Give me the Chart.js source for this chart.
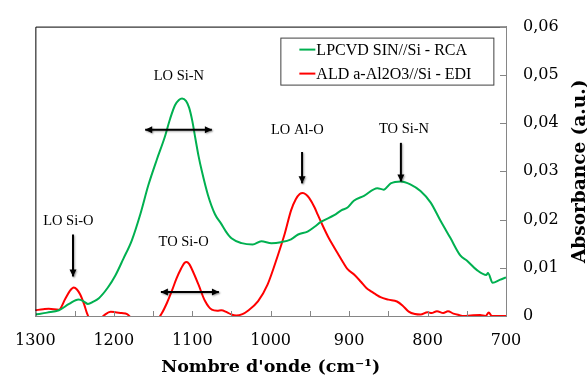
<!DOCTYPE html>
<html>
<head>
<meta charset="utf-8">
<script src="https://cdn.jsdelivr.net/npm/chart.js@4.4.1/dist/chart.umd.min.js"></script>
<style>
  html, body { margin: 0; padding: 0; background: #fff; }
</style>
</head>
<body>
<canvas id="myChart" width="587" height="380"></canvas>
<script>
// LPCVD SiN spectrum (wavenumber cm-1 / absorbance)
const greenWave = [1300, 1285, 1270, 1257, 1245, 1238, 1233, 1226, 1219, 1208, 1198, 1188, 1177, 1166, 1156, 1145, 1135, 1128, 1122, 1117, 1113, 1108, 1104, 1100, 1096, 1092, 1088, 1080, 1071, 1063, 1057, 1050, 1037, 1023, 1012, 999, 987, 974, 965, 953, 944, 936, 919, 910, 902, 894, 881, 864, 856, 847, 834, 822, 809, 796, 784, 771, 758, 750, 737, 725, 723, 717, 708, 700];
const greenAbs = [0.0003, 0.0007, 0.0012, 0.0025, 0.0034, 0.0030, 0.0025, 0.0030, 0.0037, 0.0058, 0.0084, 0.0118, 0.0157, 0.0212, 0.0271, 0.0325, 0.0371, 0.0410, 0.0437, 0.0448, 0.0451, 0.0446, 0.0432, 0.0405, 0.0368, 0.0332, 0.0302, 0.0251, 0.0211, 0.0191, 0.0175, 0.0161, 0.0151, 0.0148, 0.0155, 0.0151, 0.0153, 0.0159, 0.0169, 0.0175, 0.0185, 0.0195, 0.0209, 0.0219, 0.0225, 0.0239, 0.0249, 0.0265, 0.0262, 0.0275, 0.0279, 0.0273, 0.0259, 0.0235, 0.0199, 0.0162, 0.0125, 0.0115, 0.0095, 0.0085, 0.0089, 0.0069, 0.0075, 0.0080];

// ALD Al2O3 spectrum
const redWave = [1300, 1290, 1283, 1270, 1262, 1256, 1251, 1247, 1243, 1238, 1234, 1228, 1220, 1212, 1204, 1198, 1190, 1183, 1175, 1160, 1148, 1139, 1132, 1126, 1120, 1114, 1110, 1107, 1104, 1101, 1092, 1084, 1075, 1068, 1063, 1056, 1050, 1044, 1036, 1029, 1016, 1004, 991, 982, 974, 968, 963, 959, 955, 951, 944, 940, 933, 927, 919, 915, 908, 902, 893, 885, 878, 872, 866, 860, 850, 839, 832, 824, 816, 809, 800, 795, 788, 780, 774, 767, 760, 754, 745, 733, 726, 722, 718, 710, 700];
const redAbs = [0.0012, 0.0014, 0.0015, 0.0013, 0.0035, 0.0052, 0.0059, 0.0055, 0.0045, 0.0025, 0.0005, -0.0012, -0.0010, 0.0002, 0.0009, 0.0008, 0.0006, 0.0004, -0.0010, -0.0030, -0.0015, 0.0005, 0.0028, 0.0052, 0.0078, 0.0099, 0.0110, 0.0112, 0.0108, 0.0099, 0.0065, 0.0032, 0.0013, 0.0011, 0.0012, 0.0008, 0.0003, 0.0001, 0.0004, 0.0011, 0.0031, 0.0065, 0.0125, 0.0171, 0.0219, 0.0242, 0.0253, 0.0255, 0.0252, 0.0245, 0.0225, 0.0210, 0.0185, 0.0165, 0.0142, 0.0131, 0.0112, 0.0097, 0.0085, 0.0071, 0.0058, 0.0051, 0.0045, 0.0039, 0.0034, 0.0030, 0.0022, 0.0009, 0.0004, 0.0003, 0.0008, 0.0006, 0.0010, 0.0006, 0.0010, 0.0005, 0.0002, 0.0000, 0.0001, 0.0002, 0.0000, 0.0007, 0.0000, 0.0000, 0.0000];

const seriesNames = ['LPCVD SIN//Si - RCA', 'ALD a-Al2O3//Si - EDI'];
const seriesColors = ['#00b050', '#ff0000'];

// peak annotations (in chart units)
const peakLabels = ['LO Si-N', 'LO Al-O', 'TO Si-N', 'LO Si-O', 'TO Si-O'];
const peakLabelWave = [1117, 966, 830, 1258, 1111];
const peakLabelAbs = [0.0498, 0.0385, 0.0387, 0.0197, 0.0152];
const arrowFromWave = [1160, 960, 834, 1252, 1140];
const arrowFromAbs = [0.0386, 0.0340, 0.0359, 0.0169, 0.0050];
const arrowToWave = [1075, 960, 834, 1252, 1066];
const arrowToAbs = [0.0386, 0.0275, 0.0279, 0.0082, 0.0050];
const arrowBoth = [true, false, false, false, true];

const toPoints = (xs, ys) => xs.map((w, i) => ({ x: w, y: ys[i] }));

function drawHead(ctx, x1, y1, x2, y2) {
    const ang = Math.atan2(y2 - y1, x2 - x1);
    const len = 7, half = 3.5;
    ctx.beginPath();
    ctx.moveTo(x2, y2);
    ctx.lineTo(x2 - len * Math.cos(ang) + half * Math.sin(ang), y2 - len * Math.sin(ang) - half * Math.cos(ang));
    ctx.lineTo(x2 - len * Math.cos(ang) - half * Math.sin(ang), y2 - len * Math.sin(ang) + half * Math.cos(ang));
    ctx.closePath();
    ctx.fill();
}

const extras = {
    id: 'extras',
    afterDatasetsDraw(chart) {
        const { ctx, chartArea: a, scales: { x, y } } = chart;
        ctx.save();

        // black frame on top and left
        ctx.strokeStyle = '#000';
        ctx.lineWidth = 1;
        ctx.beginPath();
        ctx.moveTo(a.left + 0.5, a.bottom);
        ctx.lineTo(a.left + 0.5, a.top + 0.5);
        ctx.lineTo(a.right, a.top + 0.5);
        ctx.stroke();

        // tick marks pointing inside
        ctx.strokeStyle = '#868686';
        ctx.beginPath();
        x.ticks.forEach((t, i) => {
            const px = Math.round(x.getPixelForTick(i)) + 0.5;
            ctx.moveTo(px, a.bottom);
            ctx.lineTo(px, a.bottom - 5);
        });
        y.ticks.forEach((t, i) => {
            const py = Math.round(y.getPixelForTick(i)) + 0.5;
            ctx.moveTo(a.right, py);
            ctx.lineTo(a.right - 6, py);
        });
        ctx.stroke();

        // peak labels
        ctx.fillStyle = '#000';
        ctx.font = '14.5px "Liberation Serif"';
        ctx.textAlign = 'center';
        ctx.textBaseline = 'middle';
        peakLabels.forEach((txt, i) => {
            ctx.fillText(txt, x.getPixelForValue(peakLabelWave[i]), y.getPixelForValue(peakLabelAbs[i]));
        });

        // arrows
        ctx.save();
        ctx.shadowColor = 'rgba(0,0,0,0.35)';
        ctx.shadowBlur = 2;
        ctx.shadowOffsetX = 1;
        ctx.shadowOffsetY = 1;
        ctx.strokeStyle = '#000';
        ctx.fillStyle = '#000';
        ctx.lineWidth = 2;
        arrowFromWave.forEach((w, i) => {
            const x1 = x.getPixelForValue(w), y1 = y.getPixelForValue(arrowFromAbs[i]);
            const x2 = x.getPixelForValue(arrowToWave[i]), y2 = y.getPixelForValue(arrowToAbs[i]);
            ctx.beginPath();
            ctx.moveTo(x1, y1);
            ctx.lineTo(x2, y2);
            ctx.stroke();
            drawHead(ctx, x1, y1, x2, y2);
            if (arrowBoth[i]) drawHead(ctx, x2, y2, x1, y1);
        });
        ctx.restore();

        // legend box
        const lx = a.left + 245, ly = a.top + 11, lw = 213, lh = 47;
        ctx.fillStyle = '#fff';
        ctx.fillRect(lx, ly, lw, lh);
        ctx.strokeStyle = '#404040';
        ctx.lineWidth = 1;
        ctx.strokeRect(lx + 0.5, ly + 0.5, lw, lh);
        ctx.font = '16px "Liberation Serif"';
        ctx.textAlign = 'left';
        seriesNames.forEach((name, i) => {
            const cy = ly + 12 + i * 24;
            ctx.strokeStyle = seriesColors[i];
            ctx.lineWidth = 2;
            ctx.beginPath();
            ctx.moveTo(lx + 19, cy);
            ctx.lineTo(lx + 35, cy);
            ctx.stroke();
            ctx.fillStyle = '#000';
            ctx.fillText(name, lx + 36, cy + 1);
        });

        // y axis title, reading upwards
        ctx.translate(chart.width - 7, (a.top + a.bottom) / 2);
        ctx.rotate(-Math.PI / 2);
        ctx.textAlign = 'center';
        ctx.font = 'bold 18.5px "DejaVu Serif"';
        ctx.fillText('Absorbance (a.u.)', 0, 0);
        ctx.restore();
    }
};

const ctx = document.getElementById('myChart').getContext('2d');
const myChart = new Chart(ctx, {
    type: 'line',
    data: {
        datasets: [
            {
                label: seriesNames[0],
                data: toPoints(greenWave, greenAbs),
                borderColor: seriesColors[0],
                borderWidth: 2,
                pointRadius: 0,
                cubicInterpolationMode: 'monotone',
                fill: false
            },
            {
                label: seriesNames[1],
                data: toPoints(redWave, redAbs),
                borderColor: seriesColors[1],
                borderWidth: 2,
                pointRadius: 0,
                cubicInterpolationMode: 'monotone',
                fill: false
            }
        ]
    },
    options: {
        responsive: false,
        animation: false,
        devicePixelRatio: 1,
        layout: { padding: { left: 33, top: 16, right: 0, bottom: 0 } },
        plugins: {
            legend: { display: false },
            tooltip: { enabled: false }
        },
        scales: {
            x: {
                type: 'linear',
                reverse: true,
                min: 700,
                max: 1300,
                grid: { drawOnChartArea: false, drawTicks: false },
                border: { color: '#868686', width: 1 },
                ticks: {
                    stepSize: 50,
                    autoSkip: false,
                    maxRotation: 0,
                    padding: 15,
                    color: '#000',
                    font: { family: 'DejaVu Serif', size: 16 },
                    callback: (v) => (v % 100 === 0 ? String(v) : '')
                },
                title: {
                    display: true,
                    text: 'Nombre d\'onde (cm\u207B\u00B9)',
                    color: '#000',
                    font: { family: 'DejaVu Serif', size: 17.5, weight: 'bold' },
                    padding: { top: 0, bottom: 2 }
                },
                afterFit: (scale) => { scale.height = 64; }
            },
            y: {
                position: 'right',
                min: 0,
                max: 0.06,
                grid: { drawOnChartArea: false, drawTicks: false },
                border: { color: '#868686', width: 1 },
                ticks: {
                    stepSize: 0.01,
                    padding: 17,
                    color: '#000',
                    font: { family: 'DejaVu Serif', size: 16 },
                    callback: (v) => (v === 0 ? '0' : v.toFixed(2).replace('.', ','))
                },
                afterFit: (scale) => { scale.width = 81; }
            }
        }
    },
    plugins: [extras]
});
</script>
</body>
</html>
